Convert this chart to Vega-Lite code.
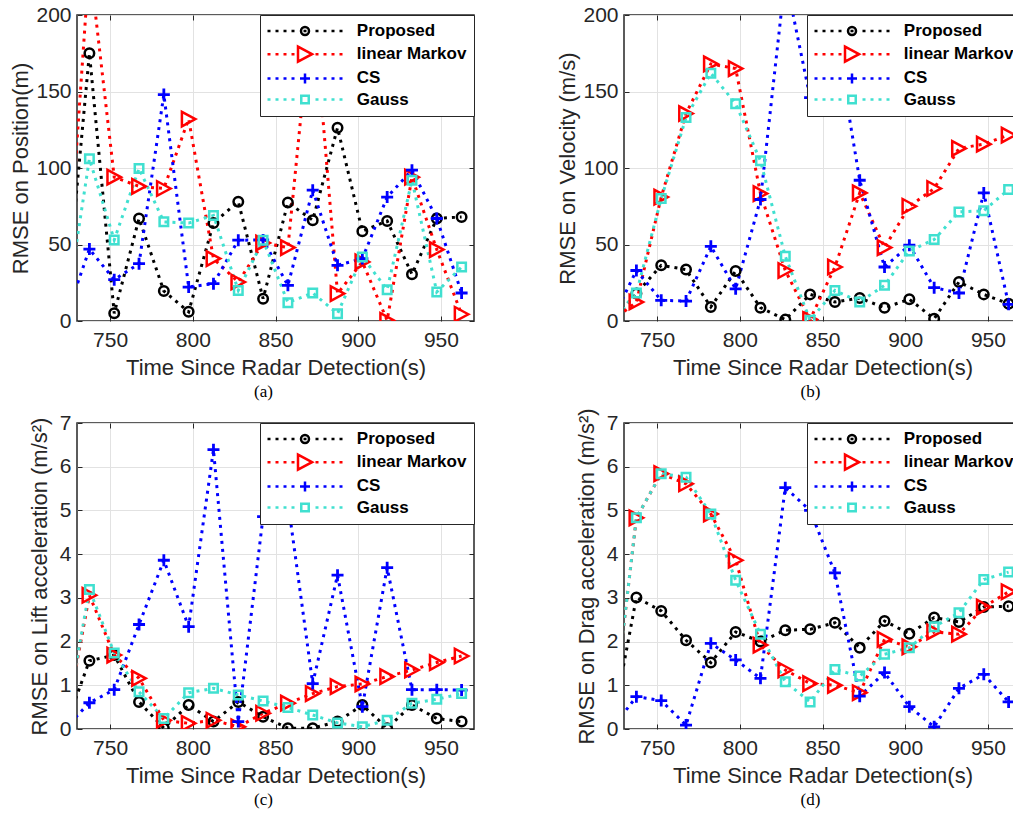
{
  "$schema": "https://vega.github.io/schema/vega-lite/v6.json",
  "background": "white",
  "padding": {"left": 8, "top": 3, "right": 0, "bottom": 0},
  "bounds": "flush",
  "columns": 2,
  "spacing": {"row": 102, "column": 150},
  "datasets": {
    "position": [
      {"t": 722.5, "Proposed": 0, "linear Markov": 0, "CS": 0, "Gauss": 0},
      {"t": 737.5, "Proposed": 175, "linear Markov": 235, "CS": 47, "Gauss": 106},
      {"t": 752.5, "Proposed": 5, "linear Markov": 94, "CS": 27, "Gauss": 53},
      {"t": 767.5, "Proposed": 67, "linear Markov": 88, "CS": 37.5, "Gauss": 99.7},
      {"t": 782.5, "Proposed": 19.6, "linear Markov": 86.6, "CS": 148, "Gauss": 64.8},
      {"t": 797.5, "Proposed": 6, "linear Markov": 132, "CS": 22.2, "Gauss": 64},
      {"t": 812.5, "Proposed": 64, "linear Markov": 40.8, "CS": 24.4, "Gauss": 69},
      {"t": 827.5, "Proposed": 78, "linear Markov": 25.5, "CS": 52.8, "Gauss": 20},
      {"t": 842.5, "Proposed": 14.6, "linear Markov": 51, "CS": 53, "Gauss": 52.8},
      {"t": 857.5, "Proposed": 77.4, "linear Markov": 48, "CS": 23.3, "Gauss": 12},
      {"t": 872.5, "Proposed": 65.9, "linear Markov": 212, "CS": 85.5, "Gauss": 18.3},
      {"t": 887.5, "Proposed": 126.3, "linear Markov": 17.9, "CS": 36.4, "Gauss": 4.8},
      {"t": 902.5, "Proposed": 58.7, "linear Markov": 38.6, "CS": 40.8, "Gauss": 41.9},
      {"t": 917.5, "Proposed": 65.4, "linear Markov": 0.4, "CS": 81, "Gauss": 20.5},
      {"t": 932.5, "Proposed": 30.5, "linear Markov": 94, "CS": 98.6, "Gauss": 92},
      {"t": 947.5, "Proposed": 67, "linear Markov": 46.7, "CS": 67, "Gauss": 19},
      {"t": 962.5, "Proposed": 68, "linear Markov": 4.4, "CS": 18.3, "Gauss": 35.3}
    ],
    "velocity": [
      {"t": 722.5, "Proposed": 0, "linear Markov": 0, "CS": 0, "Gauss": 0},
      {"t": 737.5, "Proposed": 18, "linear Markov": 12.4, "CS": 33, "Gauss": 18.3},
      {"t": 752.5, "Proposed": 36.4, "linear Markov": 81, "CS": 13.5, "Gauss": 80},
      {"t": 767.5, "Proposed": 33.6, "linear Markov": 135.6, "CS": 13, "Gauss": 133},
      {"t": 782.5, "Proposed": 9.2, "linear Markov": 168, "CS": 48.8, "Gauss": 162},
      {"t": 797.5, "Proposed": 32.7, "linear Markov": 165, "CS": 21, "Gauss": 142},
      {"t": 812.5, "Proposed": 8.7, "linear Markov": 83.3, "CS": 79.4, "Gauss": 104.7},
      {"t": 827.5, "Proposed": 0.9, "linear Markov": 33, "CS": 225, "Gauss": 42.3},
      {"t": 842.5, "Proposed": 17.4, "linear Markov": 1, "CS": 146, "Gauss": 0.5},
      {"t": 857.5, "Proposed": 12.4, "linear Markov": 35.3, "CS": 190, "Gauss": 20},
      {"t": 872.5, "Proposed": 15, "linear Markov": 83.7, "CS": 92, "Gauss": 12.4},
      {"t": 887.5, "Proposed": 8.7, "linear Markov": 48, "CS": 35.3, "Gauss": 23.3},
      {"t": 902.5, "Proposed": 14.2, "linear Markov": 75, "CS": 49.5, "Gauss": 45.8},
      {"t": 917.5, "Proposed": 1.5, "linear Markov": 86.6, "CS": 21.8, "Gauss": 53.2},
      {"t": 932.5, "Proposed": 25.5, "linear Markov": 112.8, "CS": 18.3, "Gauss": 71.3},
      {"t": 947.5, "Proposed": 17.4, "linear Markov": 115.6, "CS": 83.7, "Gauss": 72},
      {"t": 962.5, "Proposed": 11.3, "linear Markov": 121.5, "CS": 10.9, "Gauss": 86}
    ],
    "lift": [
      {"t": 722.5, "Proposed": 0, "linear Markov": 0, "CS": 0, "Gauss": 0},
      {"t": 737.5, "Proposed": 1.56, "linear Markov": 3.06, "CS": 0.6, "Gauss": 3.19},
      {"t": 752.5, "Proposed": 1.69, "linear Markov": 1.69, "CS": 0.9, "Gauss": 1.74},
      {"t": 767.5, "Proposed": 0.62, "linear Markov": 1.16, "CS": 2.39, "Gauss": 0.85},
      {"t": 782.5, "Proposed": 0.02, "linear Markov": 0.2, "CS": 3.86, "Gauss": 0.24},
      {"t": 797.5, "Proposed": 0.55, "linear Markov": 0.13, "CS": 2.34, "Gauss": 0.83},
      {"t": 812.5, "Proposed": 0.17, "linear Markov": 0.2, "CS": 6.39, "Gauss": 0.93},
      {"t": 827.5, "Proposed": 0.62, "linear Markov": 0.05, "CS": 0.17, "Gauss": 0.78},
      {"t": 842.5, "Proposed": 0.28, "linear Markov": 0.36, "CS": 4.86, "Gauss": 0.64},
      {"t": 857.5, "Proposed": 0.02, "linear Markov": 0.59, "CS": 5.2, "Gauss": 0.49},
      {"t": 872.5, "Proposed": 0.02, "linear Markov": 0.81, "CS": 1.04, "Gauss": 0.32},
      {"t": 887.5, "Proposed": 0.17, "linear Markov": 0.97, "CS": 3.52, "Gauss": 0.14},
      {"t": 902.5, "Proposed": 0.55, "linear Markov": 1.03, "CS": 0.51, "Gauss": 0.05},
      {"t": 917.5, "Proposed": 0.02, "linear Markov": 1.2, "CS": 3.69, "Gauss": 0.2},
      {"t": 932.5, "Proposed": 0.55, "linear Markov": 1.35, "CS": 0.9, "Gauss": 0.59},
      {"t": 947.5, "Proposed": 0.24, "linear Markov": 1.52, "CS": 0.9, "Gauss": 0.68},
      {"t": 962.5, "Proposed": 0.17, "linear Markov": 1.67, "CS": 0.89, "Gauss": 0.81}
    ],
    "drag": [
      {"t": 722.5, "Proposed": 0, "linear Markov": 0, "CS": 0, "Gauss": 0},
      {"t": 737.5, "Proposed": 3.01, "linear Markov": 4.83, "CS": 0.74, "Gauss": 4.83},
      {"t": 752.5, "Proposed": 2.7, "linear Markov": 5.84, "CS": 0.65, "Gauss": 5.84},
      {"t": 767.5, "Proposed": 2.03, "linear Markov": 5.61, "CS": 0.09, "Gauss": 5.76},
      {"t": 782.5, "Proposed": 1.52, "linear Markov": 4.92, "CS": 1.96, "Gauss": 4.92},
      {"t": 797.5, "Proposed": 2.22, "linear Markov": 3.86, "CS": 1.58, "Gauss": 3.4},
      {"t": 812.5, "Proposed": 2.0, "linear Markov": 1.92, "CS": 1.16, "Gauss": 2.17},
      {"t": 827.5, "Proposed": 2.26, "linear Markov": 1.35, "CS": 5.52, "Gauss": 1.08},
      {"t": 842.5, "Proposed": 2.28, "linear Markov": 1.04, "CS": 5.0, "Gauss": 0.62},
      {"t": 857.5, "Proposed": 2.43, "linear Markov": 1.0, "CS": 3.57, "Gauss": 1.36},
      {"t": 872.5, "Proposed": 1.86, "linear Markov": 0.83, "CS": 0.75, "Gauss": 1.21},
      {"t": 887.5, "Proposed": 2.47, "linear Markov": 2.05, "CS": 1.29, "Gauss": 1.71},
      {"t": 902.5, "Proposed": 2.18, "linear Markov": 1.88, "CS": 0.51, "Gauss": 1.86},
      {"t": 917.5, "Proposed": 2.55, "linear Markov": 2.22, "CS": 0.05, "Gauss": 2.34},
      {"t": 932.5, "Proposed": 2.45, "linear Markov": 2.17, "CS": 0.93, "Gauss": 2.66},
      {"t": 947.5, "Proposed": 2.79, "linear Markov": 2.79, "CS": 1.25, "Gauss": 3.42},
      {"t": 962.5, "Proposed": 2.81, "linear Markov": 3.14, "CS": 0.62, "Gauss": 3.59}
    ]
  },
  "concat": [
    {
      "width": 397, "height": 306,
      "data": {"name": "position"},
      "transform": [{"fold": ["Proposed", "linear Markov", "CS", "Gauss"], "as": ["series", "v"]}],
      "title": {"text": "(a)", "orient": "bottom", "anchor": "middle", "offset": 19, "dx": -12, "baseline": "alphabetic", "font": "Liberation Serif", "fontSize": 17, "fontWeight": "normal", "color": "#000000"},
      "resolve": {"axis": {"x": "independent", "y": "independent"}},
      "encoding": {
        "color": {"field": "series", "type": "nominal", "legend": {"title": null, "orient": "top-right"},
          "scale": {"domain": ["Proposed", "linear Markov", "CS", "Gauss"], "range": ["#000000", "#ff0000", "#0000ff", "#40e0d0"]}}
      },
      "layer": [
        {
          "mark": {"type": "line", "strokeDash": [3, 5], "strokeWidth": 3, "strokeCap": "butt", "clip": true},
          "encoding": {
            "x": {"field": "t", "type": "quantitative", "scale": {"domain": [730, 970], "nice": false, "zero": false},
                  "axis": {"values": [750, 800, 850, 900, 950], "format": "d", "title": "Time Since Radar Detection(s)", "grid": true, "labelPadding": 13, "titleY": 53, "titleBaseline": "alphabetic"}},
            "y": {"field": "v", "type": "quantitative", "scale": {"domain": [0, 200], "nice": false, "zero": false},
                  "axis": {"values": [0, 50, 100, 150, 200], "title": "RMSE on Position(m)", "grid": true, "labelPadding": 11, "titleX": -50, "titleY": 153, "titleBaseline": "alphabetic"}}
          }
        },
        {
          "mark": {"type": "point", "filled": false, "opacity": 0, "size": 4, "clip": true},
          "encoding": {
            "x": {"field": "t", "type": "quantitative", "axis": {"orient": "top", "values": [750, 800, 850, 900, 950], "labels": false, "title": null, "grid": false}},
            "y": {"field": "v", "type": "quantitative", "axis": {"orient": "right", "values": [0, 50, 100, 150, 200], "labels": false, "title": null, "grid": false}},
            "shape": {"field": "series", "type": "nominal", "legend": {"title": null, "orient": "top-right"},
              "scale": {"domain": ["Proposed", "linear Markov", "CS", "Gauss"], "range": [
                "M-37.5,0h3M-29.5,0h3M-21.5,0h3M-13.5,0h3M-1.5,0h3M10.5,0h3M18.5,0h3M26.5,0h3M34.5,0h3M4,0A4,4,0,1,1,-4,0A4,4,0,1,1,4,0Z",
                "M-37.5,0h3M-29.5,0h3M-21.5,0h3M-13.5,0h3M10.5,0h3M18.5,0h3M26.5,0h3M34.5,0h3M7,0L-7,-7.5L-7,7.5Z",
                "M-37.5,0h3M-29.5,0h3M-21.5,0h3M-13.5,0h3M10.5,0h3M18.5,0h3M26.5,0h3M34.5,0h3M-5,0H5M0,-5V5",
                "M-37.5,0h3M-29.5,0h3M-21.5,0h3M-13.5,0h3M10.5,0h3M18.5,0h3M26.5,0h3M34.5,0h3M-3.75,-3.75H3.75V3.75H-3.75Z"]}}
          }
        },
        {"transform": [{"filter": {"field": "series", "equal": "Proposed"}}],
         "mark": {"type": "point", "shape": "M4.75,0A4.75,4.75,0,1,1,-4.75,0A4.75,4.75,0,1,1,4.75,0Z", "filled": false, "opacity": 1, "size": 4, "strokeWidth": 2.5, "clip": true},
         "encoding": {"x": {"field": "t", "type": "quantitative", "axis": null}, "y": {"field": "v", "type": "quantitative", "axis": null}}},
        {"transform": [{"filter": {"field": "series", "equal": "linear Markov"}}],
         "mark": {"type": "point", "shape": "M6.75,0L-6.75,-7.25L-6.75,7.25Z", "filled": false, "opacity": 1, "size": 4, "strokeWidth": 2.5, "clip": true},
         "encoding": {"x": {"field": "t", "type": "quantitative", "axis": null}, "y": {"field": "v", "type": "quantitative", "axis": null}}},
        {"transform": [{"filter": {"field": "series", "equal": "CS"}}],
         "mark": {"type": "point", "shape": "M-6,0H6M0,-6V6", "filled": false, "opacity": 1, "size": 4, "strokeWidth": 2.8, "clip": true},
         "encoding": {"x": {"field": "t", "type": "quantitative", "axis": null}, "y": {"field": "v", "type": "quantitative", "axis": null}}},
        {"transform": [{"filter": {"field": "series", "equal": "Gauss"}}],
         "mark": {"type": "point", "shape": "M-4.25,-4.25H4.25V4.25H-4.25Z", "filled": false, "opacity": 1, "size": 4, "strokeWidth": 2.5, "clip": true},
         "encoding": {"x": {"field": "t", "type": "quantitative", "axis": null}, "y": {"field": "v", "type": "quantitative", "axis": null}}}
      ]
    },
    {
      "width": 397, "height": 306,
      "data": {"name": "velocity"},
      "transform": [{"fold": ["Proposed", "linear Markov", "CS", "Gauss"], "as": ["series", "v"]}],
      "title": {"text": "(b)", "orient": "bottom", "anchor": "middle", "offset": 19, "dx": -12, "baseline": "alphabetic", "font": "Liberation Serif", "fontSize": 17, "fontWeight": "normal", "color": "#000000"},
      "resolve": {"axis": {"x": "independent", "y": "independent"}},
      "encoding": {
        "color": {"field": "series", "type": "nominal", "legend": {"title": null, "orient": "top-right"},
          "scale": {"domain": ["Proposed", "linear Markov", "CS", "Gauss"], "range": ["#000000", "#ff0000", "#0000ff", "#40e0d0"]}}
      },
      "layer": [
        {
          "mark": {"type": "line", "strokeDash": [3, 5], "strokeWidth": 3, "strokeCap": "butt", "clip": true},
          "encoding": {
            "x": {"field": "t", "type": "quantitative", "scale": {"domain": [730, 970], "nice": false, "zero": false},
                  "axis": {"values": [750, 800, 850, 900, 950], "format": "d", "title": "Time Since Radar Detection(s)", "grid": true, "labelPadding": 13, "titleY": 53, "titleBaseline": "alphabetic"}},
            "y": {"field": "v", "type": "quantitative", "scale": {"domain": [0, 200], "nice": false, "zero": false},
                  "axis": {"values": [0, 50, 100, 150, 200], "title": "RMSE on Velocity (m/s)", "grid": true, "labelPadding": 11, "titleX": -50, "titleY": 153, "titleBaseline": "alphabetic"}}
          }
        },
        {
          "mark": {"type": "point", "filled": false, "opacity": 0, "size": 4, "clip": true},
          "encoding": {
            "x": {"field": "t", "type": "quantitative", "axis": {"orient": "top", "values": [750, 800, 850, 900, 950], "labels": false, "title": null, "grid": false}},
            "y": {"field": "v", "type": "quantitative", "axis": {"orient": "right", "values": [0, 50, 100, 150, 200], "labels": false, "title": null, "grid": false}},
            "shape": {"field": "series", "type": "nominal", "legend": {"title": null, "orient": "top-right"},
              "scale": {"domain": ["Proposed", "linear Markov", "CS", "Gauss"], "range": [
                "M-37.5,0h3M-29.5,0h3M-21.5,0h3M-13.5,0h3M-1.5,0h3M10.5,0h3M18.5,0h3M26.5,0h3M34.5,0h3M4,0A4,4,0,1,1,-4,0A4,4,0,1,1,4,0Z",
                "M-37.5,0h3M-29.5,0h3M-21.5,0h3M-13.5,0h3M10.5,0h3M18.5,0h3M26.5,0h3M34.5,0h3M7,0L-7,-7.5L-7,7.5Z",
                "M-37.5,0h3M-29.5,0h3M-21.5,0h3M-13.5,0h3M10.5,0h3M18.5,0h3M26.5,0h3M34.5,0h3M-5,0H5M0,-5V5",
                "M-37.5,0h3M-29.5,0h3M-21.5,0h3M-13.5,0h3M10.5,0h3M18.5,0h3M26.5,0h3M34.5,0h3M-3.75,-3.75H3.75V3.75H-3.75Z"]}}
          }
        },
        {"transform": [{"filter": {"field": "series", "equal": "Proposed"}}],
         "mark": {"type": "point", "shape": "M4.75,0A4.75,4.75,0,1,1,-4.75,0A4.75,4.75,0,1,1,4.75,0Z", "filled": false, "opacity": 1, "size": 4, "strokeWidth": 2.5, "clip": true},
         "encoding": {"x": {"field": "t", "type": "quantitative", "axis": null}, "y": {"field": "v", "type": "quantitative", "axis": null}}},
        {"transform": [{"filter": {"field": "series", "equal": "linear Markov"}}],
         "mark": {"type": "point", "shape": "M6.75,0L-6.75,-7.25L-6.75,7.25Z", "filled": false, "opacity": 1, "size": 4, "strokeWidth": 2.5, "clip": true},
         "encoding": {"x": {"field": "t", "type": "quantitative", "axis": null}, "y": {"field": "v", "type": "quantitative", "axis": null}}},
        {"transform": [{"filter": {"field": "series", "equal": "CS"}}],
         "mark": {"type": "point", "shape": "M-6,0H6M0,-6V6", "filled": false, "opacity": 1, "size": 4, "strokeWidth": 2.8, "clip": true},
         "encoding": {"x": {"field": "t", "type": "quantitative", "axis": null}, "y": {"field": "v", "type": "quantitative", "axis": null}}},
        {"transform": [{"filter": {"field": "series", "equal": "Gauss"}}],
         "mark": {"type": "point", "shape": "M-4.25,-4.25H4.25V4.25H-4.25Z", "filled": false, "opacity": 1, "size": 4, "strokeWidth": 2.5, "clip": true},
         "encoding": {"x": {"field": "t", "type": "quantitative", "axis": null}, "y": {"field": "v", "type": "quantitative", "axis": null}}}
      ]
    },
    {
      "width": 397, "height": 306,
      "data": {"name": "lift"},
      "transform": [{"fold": ["Proposed", "linear Markov", "CS", "Gauss"], "as": ["series", "v"]}],
      "title": {"text": "(c)", "orient": "bottom", "anchor": "middle", "offset": 19, "dx": -12, "baseline": "alphabetic", "font": "Liberation Serif", "fontSize": 17, "fontWeight": "normal", "color": "#000000"},
      "resolve": {"axis": {"x": "independent", "y": "independent"}},
      "encoding": {
        "color": {"field": "series", "type": "nominal", "legend": {"title": null, "orient": "top-right"},
          "scale": {"domain": ["Proposed", "linear Markov", "CS", "Gauss"], "range": ["#000000", "#ff0000", "#0000ff", "#40e0d0"]}}
      },
      "layer": [
        {
          "mark": {"type": "line", "strokeDash": [3, 5], "strokeWidth": 3, "strokeCap": "butt", "clip": true},
          "encoding": {
            "x": {"field": "t", "type": "quantitative", "scale": {"domain": [730, 970], "nice": false, "zero": false},
                  "axis": {"values": [750, 800, 850, 900, 950], "format": "d", "title": "Time Since Radar Detection(s)", "grid": true, "labelPadding": 13, "titleY": 53, "titleBaseline": "alphabetic"}},
            "y": {"field": "v", "type": "quantitative", "scale": {"domain": [0, 7], "nice": false, "zero": false},
                  "axis": {"values": [0, 1, 2, 3, 4, 5, 6, 7], "title": "RMSE on Lift acceleration (m/s²)", "grid": true, "labelPadding": 11, "titleX": -31, "titleY": 153, "titleBaseline": "alphabetic"}}
          }
        },
        {
          "mark": {"type": "point", "filled": false, "opacity": 0, "size": 4, "clip": true},
          "encoding": {
            "x": {"field": "t", "type": "quantitative", "axis": {"orient": "top", "values": [750, 800, 850, 900, 950], "labels": false, "title": null, "grid": false}},
            "y": {"field": "v", "type": "quantitative", "axis": {"orient": "right", "values": [0, 1, 2, 3, 4, 5, 6, 7], "labels": false, "title": null, "grid": false}},
            "shape": {"field": "series", "type": "nominal", "legend": {"title": null, "orient": "top-right"},
              "scale": {"domain": ["Proposed", "linear Markov", "CS", "Gauss"], "range": [
                "M-37.5,0h3M-29.5,0h3M-21.5,0h3M-13.5,0h3M-1.5,0h3M10.5,0h3M18.5,0h3M26.5,0h3M34.5,0h3M4,0A4,4,0,1,1,-4,0A4,4,0,1,1,4,0Z",
                "M-37.5,0h3M-29.5,0h3M-21.5,0h3M-13.5,0h3M10.5,0h3M18.5,0h3M26.5,0h3M34.5,0h3M7,0L-7,-7.5L-7,7.5Z",
                "M-37.5,0h3M-29.5,0h3M-21.5,0h3M-13.5,0h3M10.5,0h3M18.5,0h3M26.5,0h3M34.5,0h3M-5,0H5M0,-5V5",
                "M-37.5,0h3M-29.5,0h3M-21.5,0h3M-13.5,0h3M10.5,0h3M18.5,0h3M26.5,0h3M34.5,0h3M-3.75,-3.75H3.75V3.75H-3.75Z"]}}
          }
        },
        {"transform": [{"filter": {"field": "series", "equal": "Proposed"}}],
         "mark": {"type": "point", "shape": "M4.75,0A4.75,4.75,0,1,1,-4.75,0A4.75,4.75,0,1,1,4.75,0Z", "filled": false, "opacity": 1, "size": 4, "strokeWidth": 2.5, "clip": true},
         "encoding": {"x": {"field": "t", "type": "quantitative", "axis": null}, "y": {"field": "v", "type": "quantitative", "axis": null}}},
        {"transform": [{"filter": {"field": "series", "equal": "linear Markov"}}],
         "mark": {"type": "point", "shape": "M6.75,0L-6.75,-7.25L-6.75,7.25Z", "filled": false, "opacity": 1, "size": 4, "strokeWidth": 2.5, "clip": true},
         "encoding": {"x": {"field": "t", "type": "quantitative", "axis": null}, "y": {"field": "v", "type": "quantitative", "axis": null}}},
        {"transform": [{"filter": {"field": "series", "equal": "CS"}}],
         "mark": {"type": "point", "shape": "M-6,0H6M0,-6V6", "filled": false, "opacity": 1, "size": 4, "strokeWidth": 2.8, "clip": true},
         "encoding": {"x": {"field": "t", "type": "quantitative", "axis": null}, "y": {"field": "v", "type": "quantitative", "axis": null}}},
        {"transform": [{"filter": {"field": "series", "equal": "Gauss"}}],
         "mark": {"type": "point", "shape": "M-4.25,-4.25H4.25V4.25H-4.25Z", "filled": false, "opacity": 1, "size": 4, "strokeWidth": 2.5, "clip": true},
         "encoding": {"x": {"field": "t", "type": "quantitative", "axis": null}, "y": {"field": "v", "type": "quantitative", "axis": null}}}
      ]
    },
    {
      "width": 397, "height": 306,
      "data": {"name": "drag"},
      "transform": [{"fold": ["Proposed", "linear Markov", "CS", "Gauss"], "as": ["series", "v"]}],
      "title": {"text": "(d)", "orient": "bottom", "anchor": "middle", "offset": 19, "dx": -12, "baseline": "alphabetic", "font": "Liberation Serif", "fontSize": 17, "fontWeight": "normal", "color": "#000000"},
      "resolve": {"axis": {"x": "independent", "y": "independent"}},
      "encoding": {
        "color": {"field": "series", "type": "nominal", "legend": {"title": null, "orient": "top-right"},
          "scale": {"domain": ["Proposed", "linear Markov", "CS", "Gauss"], "range": ["#000000", "#ff0000", "#0000ff", "#40e0d0"]}}
      },
      "layer": [
        {
          "mark": {"type": "line", "strokeDash": [3, 5], "strokeWidth": 3, "strokeCap": "butt", "clip": true},
          "encoding": {
            "x": {"field": "t", "type": "quantitative", "scale": {"domain": [730, 970], "nice": false, "zero": false},
                  "axis": {"values": [750, 800, 850, 900, 950], "format": "d", "title": "Time Since Radar Detection(s)", "grid": true, "labelPadding": 13, "titleY": 53, "titleBaseline": "alphabetic"}},
            "y": {"field": "v", "type": "quantitative", "scale": {"domain": [0, 7], "nice": false, "zero": false},
                  "axis": {"values": [0, 1, 2, 3, 4, 5, 6, 7], "title": "RMSE on Drag acceleration (m/s²)", "grid": true, "labelPadding": 11, "titleX": -31, "titleY": 153, "titleBaseline": "alphabetic"}}
          }
        },
        {
          "mark": {"type": "point", "filled": false, "opacity": 0, "size": 4, "clip": true},
          "encoding": {
            "x": {"field": "t", "type": "quantitative", "axis": {"orient": "top", "values": [750, 800, 850, 900, 950], "labels": false, "title": null, "grid": false}},
            "y": {"field": "v", "type": "quantitative", "axis": {"orient": "right", "values": [0, 1, 2, 3, 4, 5, 6, 7], "labels": false, "title": null, "grid": false}},
            "shape": {"field": "series", "type": "nominal", "legend": {"title": null, "orient": "top-right"},
              "scale": {"domain": ["Proposed", "linear Markov", "CS", "Gauss"], "range": [
                "M-37.5,0h3M-29.5,0h3M-21.5,0h3M-13.5,0h3M-1.5,0h3M10.5,0h3M18.5,0h3M26.5,0h3M34.5,0h3M4,0A4,4,0,1,1,-4,0A4,4,0,1,1,4,0Z",
                "M-37.5,0h3M-29.5,0h3M-21.5,0h3M-13.5,0h3M10.5,0h3M18.5,0h3M26.5,0h3M34.5,0h3M7,0L-7,-7.5L-7,7.5Z",
                "M-37.5,0h3M-29.5,0h3M-21.5,0h3M-13.5,0h3M10.5,0h3M18.5,0h3M26.5,0h3M34.5,0h3M-5,0H5M0,-5V5",
                "M-37.5,0h3M-29.5,0h3M-21.5,0h3M-13.5,0h3M10.5,0h3M18.5,0h3M26.5,0h3M34.5,0h3M-3.75,-3.75H3.75V3.75H-3.75Z"]}}
          }
        },
        {"transform": [{"filter": {"field": "series", "equal": "Proposed"}}],
         "mark": {"type": "point", "shape": "M4.75,0A4.75,4.75,0,1,1,-4.75,0A4.75,4.75,0,1,1,4.75,0Z", "filled": false, "opacity": 1, "size": 4, "strokeWidth": 2.5, "clip": true},
         "encoding": {"x": {"field": "t", "type": "quantitative", "axis": null}, "y": {"field": "v", "type": "quantitative", "axis": null}}},
        {"transform": [{"filter": {"field": "series", "equal": "linear Markov"}}],
         "mark": {"type": "point", "shape": "M6.75,0L-6.75,-7.25L-6.75,7.25Z", "filled": false, "opacity": 1, "size": 4, "strokeWidth": 2.5, "clip": true},
         "encoding": {"x": {"field": "t", "type": "quantitative", "axis": null}, "y": {"field": "v", "type": "quantitative", "axis": null}}},
        {"transform": [{"filter": {"field": "series", "equal": "CS"}}],
         "mark": {"type": "point", "shape": "M-6,0H6M0,-6V6", "filled": false, "opacity": 1, "size": 4, "strokeWidth": 2.8, "clip": true},
         "encoding": {"x": {"field": "t", "type": "quantitative", "axis": null}, "y": {"field": "v", "type": "quantitative", "axis": null}}},
        {"transform": [{"filter": {"field": "series", "equal": "Gauss"}}],
         "mark": {"type": "point", "shape": "M-4.25,-4.25H4.25V4.25H-4.25Z", "filled": false, "opacity": 1, "size": 4, "strokeWidth": 2.5, "clip": true},
         "encoding": {"x": {"field": "t", "type": "quantitative", "axis": null}, "y": {"field": "v", "type": "quantitative", "axis": null}}}
      ]
    }
  ],
  "resolve": {
    "scale": {"color": "independent", "shape": "independent"},
    "legend": {"color": "independent", "shape": "independent"}
  },
  "config": {
    "view": {"stroke": "#262626", "strokeWidth": 1.5},
    "axis": {
      "labelFont": "Liberation Sans", "labelFontSize": 21, "labelColor": "#262626", "labelFlush": false, "labelOverlap": false,
      "titleFont": "Liberation Sans", "titleFontSize": 22, "titleFontWeight": "normal", "titleColor": "#262626",
      "domain": false, "ticks": true, "tickSize": -5, "tickColor": "#262626", "tickWidth": 1,
      "gridColor": "#e2e2e2", "gridWidth": 1, "gridOpacity": 1
    },
    "legend": {
      "offset": 0, "padding": 7.5, "rowPadding": 1.2, "fillColor": "white", "strokeColor": "#262626",
      "labelFont": "Liberation Sans", "labelFontSize": 17, "labelFontWeight": "bold", "labelColor": "#000000", "labelLimit": 300,
      "symbolSize": 4, "symbolStrokeWidth": 2.5, "symbolOpacity": 1, "symbolFillColor": "transparent", "symbolDash": [], "symbolOffset": 29, "labelOffset": 43.3
    }
  }
}
